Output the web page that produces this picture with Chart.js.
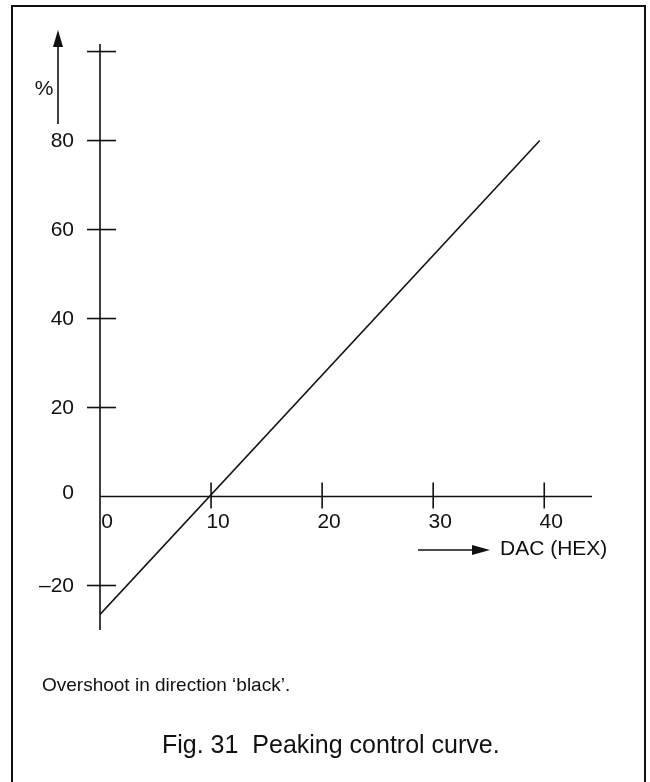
<!DOCTYPE html>
<html>
<head>
<meta charset="utf-8">
<script src="https://cdn.jsdelivr.net/npm/chart.js@4"></script>
<style>
  html, body { margin: 0; padding: 0; background: #fff; }
  #wrap { position: relative; width: 650px; height: 782px; overflow: hidden; }
  #frame { position: absolute; left: 11px; top: 5px; width: 631px; height: 800px;
           border: 2px solid #111; border-bottom: none; }
  canvas { position: absolute; left: 0; top: 0; }
  .note { position: absolute; font-family: 'Liberation Sans', Arial, sans-serif; color: #111; white-space: pre; }
</style>
</head>
<body>
<div id="wrap">
  <div id="frame"></div>
  <canvas id="peakChart" width="650" height="782"></canvas>
  <div class="note" style="left:42px; top:674px; font-size:19px;">Overshoot in direction ‘black’.</div>
  <div class="note" style="left:162px; top:730px; font-size:25px;">Fig. 31  Peaking control curve.</div>
</div>
<script>
// values
const dacValues = [0, 39.6];
const overshootValues = [-26.5, 80];
const xTicks = [0, 10, 20, 30, 40];
const xTickLabels = ['0', '10', '20', '30', '40'];
const yTicks = [-20, 0, 20, 40, 60, 80, 100];
const yTickLabels = ['–20', '0', '20', '40', '60', '80', ''];

const font = "21px 'Liberation Sans', Arial, sans-serif";

// axes, cross ticks, labels and arrows drawn from the chart's scales
const axesPlugin = {
  id: 'crossAxes',
  afterDraw(chart) {
    const c = chart.ctx;
    const xs = chart.scales.x, ys = chart.scales.y;
    const area = chart.chartArea;
    const x0 = xs.getPixelForValue(0);
    const y0 = ys.getPixelForValue(0);
    c.save();
    c.strokeStyle = '#111';
    c.fillStyle = '#111';
    c.lineWidth = 1.6;

    c.beginPath();
    c.moveTo(x0, area.top);
    c.lineTo(x0, area.bottom);
    c.moveTo(x0, y0);
    c.lineTo(area.right, y0);
    c.stroke();

    c.font = font;
    c.textBaseline = 'middle';
    yTicks.forEach((v, i) => {
      const py = ys.getPixelForValue(v);
      if (v !== 0) {
        c.beginPath();
        c.moveTo(x0 - 13, py);
        c.lineTo(x0 + 16, py);
        c.stroke();
      }
      c.textAlign = 'right';
      c.fillText(yTickLabels[i], x0 - 26, v === 0 ? py - 3 : py + 1);
    });
    xTicks.forEach((v, i) => {
      const px = xs.getPixelForValue(v);
      if (v !== 0) {
        c.beginPath();
        c.moveTo(px, y0 - 14);
        c.lineTo(px, y0 + 12);
        c.stroke();
      }
      c.textAlign = 'center';
      c.fillText(xTickLabels[i], px + 7, y0 + 26);
    });

    // y arrow and unit
    c.beginPath();
    c.moveTo(58, 124);
    c.lineTo(58, 44);
    c.stroke();
    c.beginPath();
    c.moveTo(58, 30);
    c.lineTo(53, 47);
    c.lineTo(63, 47);
    c.closePath();
    c.fill();
    c.textAlign = 'center';
    c.fillText('%', 44, 89);

    // x arrow and unit
    c.beginPath();
    c.moveTo(418, 550);
    c.lineTo(476, 550);
    c.stroke();
    c.beginPath();
    c.moveTo(490, 550);
    c.lineTo(472, 545);
    c.lineTo(472, 555);
    c.closePath();
    c.fill();
    c.textAlign = 'left';
    c.fillText('DAC (HEX)', 500, 549);
    c.restore();
  }
};

new Chart(document.getElementById('peakChart'), {
  type: 'scatter',
  data: {
    datasets: [{
      data: dacValues.map((x, i) => ({ x: x, y: overshootValues[i] })),
      showLine: true,
      borderColor: '#111',
      borderWidth: 1.6,
      pointRadius: 0,
      fill: false
    }]
  },
  options: {
    responsive: false,
    animation: false,
    layout: { padding: { left: 100, right: 58, top: 44, bottom: 152 } },
    plugins: { legend: { display: false }, tooltip: { enabled: false } },
    scales: {
      x: { type: 'linear', min: 0, max: 44.3, display: false },
      y: { type: 'linear', min: -30, max: 101.7, display: false }
    }
  },
  plugins: [axesPlugin]
});
</script>
</body>
</html>
